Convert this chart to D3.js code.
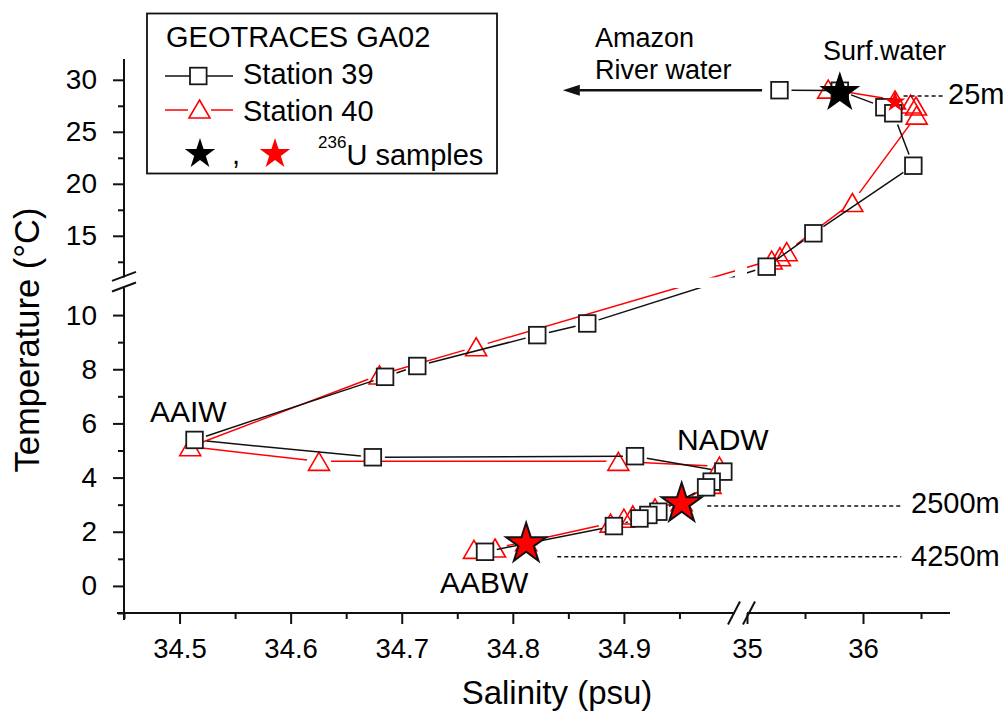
<!DOCTYPE html>
<html><head><meta charset="utf-8">
<script src="https://cdn.jsdelivr.net/npm/d3@7"></script>
<style>
body{margin:0;background:#fff;}
svg text{font-family:"Liberation Sans",Arial,Helvetica,sans-serif;fill:#000;}
</style></head><body>
<svg id="chart" width="1008" height="715"></svg>
<script>
// GEOTRACES GA02 theta-S profiles, surface to bottom
const st39Salinity = [35.28, 35.80, 36.184, 36.261, 36.434, 35.572, 35.17, 34.867, 34.822, 34.714, 34.685, 34.5135, 34.674, 34.91, 34.9895, 34.979, 34.974, 34.931, 34.922, 34.914, 34.891, 34.775];
const st39Temp     = [29.0, 28.95, 27.36, 26.78, 21.74, 15.24, 12.03, 9.69, 9.26, 8.12, 7.72, 5.39, 4.75, 4.79, 4.22, 3.85, 3.64, 2.74, 2.62, 2.49, 2.21, 1.26];

const st40Salinity = [35.70, 36.276, 36.41, 36.457, 36.463, 35.908, 35.342, 35.284, 35.213, 34.767, 34.68, 34.5096, 34.6255, 34.895, 34.986, 34.978, 34.952, 34.928, 34.908, 34.9, 34.888, 34.812, 34.784, 34.765];
const st40Temp     = [29.1, 28.06, 27.67, 27.48, 26.6, 18.2, 13.47, 12.99, 12.67, 8.83, 7.79, 5.14, 4.6, 4.6, 4.42, 3.75, 3.11, 2.88, 2.62, 2.5, 2.32, 1.63, 1.4, 1.35];

// 236U sampling depths
const u236BlackSal = [35.80];
const u236BlackTemp = [28.95];
const u236RedSal = [36.276, 34.952, 34.812];
const u236RedTemp = [28.06, 3.11, 1.63];

// axis ticks (salinity axis broken at 35, temperature axis broken at 11)
const xMajorLow = [34.5, 34.6, 34.7, 34.8, 34.9];
const xMinorLow = [34.45, 34.55, 34.65, 34.75, 34.85, 34.95];
const xMajorHigh = [35, 36];
const xMinorHigh = [35.5, 36.5];
const yMajorLow = [0, 2, 4, 6, 8, 10];
const yMinorLow = [-1, 1, 3, 5, 7, 9];
const yMajorHigh = [15, 20, 25, 30];
const yMinorHigh = [12.5, 17.5, 22.5, 27.5];

const svg = d3.select("#chart");
const INK = "#111";
const RED = "#ff0000";

// broken scales
const xLo = d3.scaleLinear().domain([34.45, 35.0]).range([124, 735]);
const xHi = d3.scaleLinear().domain([35.0, 36.75]).range([747, 950]);
const yLo = d3.scaleLinear().domain([-1, 11]).range([613, 288]);
const yHi = d3.scaleLinear().domain([11, 32]).range([277.4, 59]);
const X = s => s < 35 ? xLo(s) : xHi(s);
const Y = t => t < 11 ? yLo(t) : yHi(t);

const axisY = yLo.range()[0];
const axisX = xLo.range()[0];

// clip for connecting lines: the four panels of the broken axes
const defs = svg.append("defs");
const clip = defs.append("clipPath").attr("id", "panels");
[[xLo, yLo], [xHi, yLo], [xLo, yHi], [xHi, yHi]].forEach(([xs, ys]) => {
  const [x0, x1] = xs.range(), [y0, y1] = ys.range();
  clip.append("rect").attr("x", x0).attr("y", y1).attr("width", x1 - x0).attr("height", y0 - y1);
});

// ---------- axes ----------
const fmt = d => String(d);
function styleAxis(g, size) {
  g.selectAll(".domain").remove();
  g.selectAll("line").attr("stroke", INK).attr("stroke-width", 2);
  g.selectAll("text").attr("font-size", size).attr("fill", INK);
}
function xAxis(scale, major, minor) {
  const gM = svg.append("g").attr("transform", `translate(0,${axisY})`)
    .call(d3.axisBottom(scale).tickValues(major).tickSize(11).tickPadding(14).tickFormat(fmt));
  const gm = svg.append("g").attr("transform", `translate(0,${axisY})`)
    .call(d3.axisBottom(scale).tickValues(minor).tickSize(6).tickFormat(""));
  styleAxis(gM, 27.5); styleAxis(gm, 27.5);
  const [a, b] = scale.range();
  svg.append("line").attr("x1", a - (scale === xLo ? 7 : 0)).attr("x2", b).attr("y1", axisY).attr("y2", axisY)
    .attr("stroke", INK).attr("stroke-width", 2);
}
function yAxis(scale, major, minor) {
  const gM = svg.append("g").attr("transform", `translate(${axisX},0)`)
    .call(d3.axisLeft(scale).tickValues(major).tickSize(11).tickPadding(16).tickFormat(fmt));
  const gm = svg.append("g").attr("transform", `translate(${axisX},0)`)
    .call(d3.axisLeft(scale).tickValues(minor).tickSize(6).tickFormat(""));
  styleAxis(gM, 28); styleAxis(gm, 28);
  const [a, b] = scale.range();
  svg.append("line").attr("x1", axisX).attr("x2", axisX).attr("y1", a + (scale === yLo ? 7 : 0)).attr("y2", b)
    .attr("stroke", INK).attr("stroke-width", 2);
}
xAxis(xLo, xMajorLow, xMinorLow);
xAxis(xHi, xMajorHigh, xMinorHigh);
yAxis(yLo, yMajorLow, yMinorLow);
yAxis(yHi, yMajorHigh, yMinorHigh);

// break marks
function slash(cx, cy, dx, dy) {
  svg.append("line").attr("x1", cx - dx).attr("y1", cy - dy).attr("x2", cx + dx).attr("y2", cy + dy)
    .attr("stroke", INK).attr("stroke-width", 2);
}
[xLo.range()[1] - 1, xHi.range()[0] + 2].forEach(cx => slash(cx, axisY, 6, -11.5));
[yHi.range()[0] - 1, yLo.range()[1] - 1].forEach(cy => slash(axisX, cy, 12, -4.5));

// axis titles
svg.append("text").attr("x", 557).attr("y", 704).attr("text-anchor", "middle")
  .attr("font-size", 33).text("Salinity (psu)");
svg.append("text").attr("transform", "translate(39,340) rotate(-90)").attr("text-anchor", "middle")
  .attr("font-size", 34.5).text("Temperature (°C)");

// ---------- data ----------
const GAP = 12;
function gapped(pts) {
  const segs = [];
  for (let i = 0; i < pts.length - 1; i++) {
    const [x1, y1] = pts[i], [x2, y2] = pts[i + 1];
    const dx = x2 - x1, dy = y2 - y1, L = Math.hypot(dx, dy);
    if (L <= 2 * GAP) continue;
    const ux = dx / L, uy = dy / L;
    segs.push([x1 + ux * GAP, y1 + uy * GAP, x2 - ux * GAP, y2 - uy * GAP]);
  }
  return segs;
}
const pts39 = st39Salinity.map((s, i) => [X(s), Y(st39Temp[i])]);
const pts40 = st40Salinity.map((s, i) => [X(s), Y(st40Temp[i])]);

const triPath = "M0,-9L10.5,9L-10.5,9Z";
function starPath(R) {
  const r = R * 0.382, p = [];
  for (let k = 0; k < 10; k++) {
    const a = -Math.PI / 2 + k * Math.PI / 5, rr = k % 2 ? r : R;
    p.push([rr * Math.cos(a), rr * Math.sin(a)]);
  }
  return "M" + p.map(d => d.join(",")).join("L") + "Z";
}

// Station 40 (red)
svg.append("g").attr("clip-path", "url(#panels)").selectAll("line").data(gapped(pts40)).join("line")
  .attr("x1", d => d[0]).attr("y1", d => d[1]).attr("x2", d => d[2]).attr("y2", d => d[3])
  .attr("stroke", RED).attr("stroke-width", 1.5);
svg.append("g").selectAll("path").data(pts40).join("path")
  .attr("transform", d => `translate(${d[0]},${d[1]})`).attr("d", triPath)
  .attr("fill", "none").attr("stroke", RED).attr("stroke-width", 1.6);

// Station 39 (black)
svg.append("g").attr("clip-path", "url(#panels)").selectAll("line").data(gapped(pts39)).join("line")
  .attr("x1", d => d[0]).attr("y1", d => d[1]).attr("x2", d => d[2]).attr("y2", d => d[3])
  .attr("stroke", INK).attr("stroke-width", 1.5);
svg.append("g").selectAll("rect").data(pts39).join("rect")
  .attr("x", d => d[0] - 8.3).attr("y", d => d[1] - 8.3).attr("width", 16.6).attr("height", 16.6)
  .attr("fill", "#fff").attr("stroke", "#1a1a1a").attr("stroke-width", 1.8);

// 236U samples
const redStars = u236RedSal.map((s, i) => ({x: X(s), y: Y(u236RedTemp[i]), surf: u236RedTemp[i] > 11}));
svg.append("g").selectAll("path").data(redStars).join("path")
  .attr("transform", d => `translate(${d.x},${d.y + 2})`)
  .attr("d", d => starPath(d.surf ? 11 : 21))
  .attr("fill", RED).attr("stroke", d => d.surf ? "none" : INK).attr("stroke-width", 2)
  .attr("stroke-linejoin", "miter");
svg.append("g").selectAll("path").data(u236BlackSal).join("path")
  .attr("transform", (s, i) => `translate(${X(s)},${Y(u236BlackTemp[i]) + 2})`)
  .attr("d", starPath(21.5)).attr("fill", "#000");

// ---------- annotations ----------
const ann = svg.append("g");
// Amazon river water arrow
const arrY = Y(29.0);
ann.append("line").attr("x1", xHi(35.13)).attr("x2", xLo(34.86)).attr("y1", arrY).attr("y2", arrY)
  .attr("stroke", INK).attr("stroke-width", 2.5);
ann.append("path").attr("d", `M${xLo(34.845)},${arrY}l17,-5.5l0,11Z`).attr("fill", INK);
ann.append("text").attr("x", 595).attr("y", 47).attr("font-size", 27).text("Amazon");
ann.append("text").attr("x", 595).attr("y", 79).attr("font-size", 27).text("River water");
ann.append("text").attr("x", 823).attr("y", 60).attr("font-size", 27).text("Surf.water");

function dashed(s0, s1, t) {
  ann.append("line").attr("x1", X(s0)).attr("x2", X(s1)).attr("y1", Y(t)).attr("y2", Y(t))
    .attr("stroke", INK).attr("stroke-width", 1.5).attr("stroke-dasharray", "4,3");
}
dashed(36.35, 36.7, 28.45);
dashed(34.975, 36.33, 2.95);
dashed(34.84, 36.33, 1.08);
ann.append("text").attr("x", 948).attr("y", 104).attr("font-size", 29).text("25m");
ann.append("text").attr("x", 911).attr("y", 513).attr("font-size", 29).text("2500m");
ann.append("text").attr("x", 911).attr("y", 566).attr("font-size", 29).text("4250m");
ann.append("text").attr("x", 150).attr("y", 422).attr("font-size", 30).text("AAIW");
ann.append("text").attr("x", 677).attr("y", 450).attr("font-size", 30).text("NADW");
ann.append("text").attr("x", 440).attr("y", 593).attr("font-size", 30).text("AABW");

// ---------- legend ----------
const lg = svg.append("g");
lg.append("rect").attr("x", 147).attr("y", 13.5).attr("width", 350).attr("height", 160)
  .attr("fill", "#fff").attr("stroke", INK).attr("stroke-width", 1.8);
lg.append("text").attr("x", 166).attr("y", 47).attr("font-size", 29).text("GEOTRACES GA02");
lg.append("line").attr("x1", 165).attr("x2", 233).attr("y1", 76).attr("y2", 76).attr("stroke", INK).attr("stroke-width", 1.5);
lg.append("rect").attr("x", 190).attr("y", 67.7).attr("width", 16.6).attr("height", 16.6)
  .attr("fill", "#fff").attr("stroke", "#1a1a1a").attr("stroke-width", 1.8);
lg.append("text").attr("x", 243).attr("y", 84).attr("font-size", 29).text("Station 39");
lg.append("line").attr("x1", 165).attr("x2", 188).attr("y1", 110).attr("y2", 110).attr("stroke", RED).attr("stroke-width", 1.5);
lg.append("line").attr("x1", 211).attr("x2", 233).attr("y1", 110).attr("y2", 110).attr("stroke", RED).attr("stroke-width", 1.5);
lg.append("path").attr("transform", "translate(199.5,109)").attr("d", triPath)
  .attr("fill", "none").attr("stroke", RED).attr("stroke-width", 1.6);
lg.append("text").attr("x", 243).attr("y", 121).attr("font-size", 29).text("Station 40");
lg.append("path").attr("transform", "translate(200,154)").attr("d", starPath(16)).attr("fill", "#000");
lg.append("text").attr("x", 232).attr("y", 164).attr("font-size", 29).text(",");
lg.append("path").attr("transform", "translate(275,154)").attr("d", starPath(16)).attr("fill", RED);
const ut = lg.append("text").attr("x", 318).attr("y", 165).attr("font-size", 29);
ut.append("tspan").attr("font-size", 17).attr("dy", -17).text("236");
ut.append("tspan").attr("dy", 17).text("U samples");
</script>
</body></html>
